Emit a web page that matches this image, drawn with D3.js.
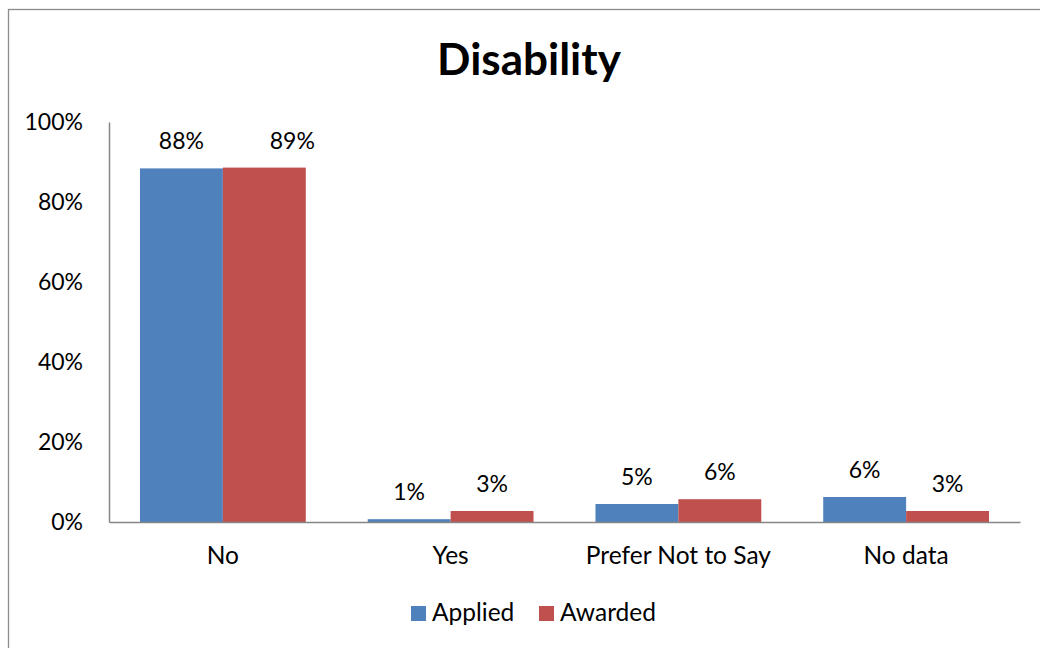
<!DOCTYPE html>
<html>
<head>
<meta charset="utf-8">
<script src="https://cdn.jsdelivr.net/npm/d3@7"></script>
<style>
  html, body { margin: 0; padding: 0; background: #fff; }
  svg { display: block; font-family: Lato, "Open Sans", sans-serif; }
</style>
</head>
<body>
<svg id="chart" width="1040" height="648"></svg>
<script>
const categories = ["No", "Yes", "Prefer Not to Say", "No data"];
const seriesNames = ["Applied", "Awarded"];
const applied = [88.4, 0.7, 4.5, 6.25];
const awarded = [88.6, 2.75, 5.7, 2.75];
const appliedLabels = ["88%", "1%", "5%", "6%"];
const awardedLabels = ["89%", "3%", "6%", "3%"];
const yTicks = [0, 20, 40, 60, 80, 100];
const colors = ["#4F81BD", "#C0504D"];

const svg = d3.select("#chart");
const W = 1040, H = 648;
const margin = {left: 109, right: 20, top: 122, bottom: 126};

// outer chart border
svg.append("rect")
  .attr("x", 8.5).attr("y", 9.5)
  .attr("width", W + 20).attr("height", H + 20)
  .attr("fill", "#fff").attr("stroke", "#8c8c8c").attr("stroke-width", 1.3);

const x0 = d3.scaleBand().domain(categories).range([margin.left, W - margin.right]).padding(0);
const x1 = d3.scaleBand().domain(seriesNames)
  .range([x0.bandwidth() * 0.136, x0.bandwidth() * (1 - 0.136)]).padding(0);
const y = d3.scaleLinear().domain([0, 100]).range([H - margin.bottom, margin.top]);

// title
svg.append("text")
  .attr("x", 529).attr("y", 75)
  .attr("text-anchor", "middle")
  .attr("font-weight", "bold")
  .attr("font-size", 44)
  .attr("fill", "#000")
  .text("Disability");

const data = categories.map((c, i) => ({
  cat: c,
  vals: [
    {s: seriesNames[0], v: applied[i], label: appliedLabels[i]},
    {s: seriesNames[1], v: awarded[i], label: awardedLabels[i]}
  ]
}));

const groups = svg.append("g").selectAll("g")
  .data(data).join("g")
  .attr("transform", d => `translate(${x0(d.cat)},0)`);

groups.selectAll("rect")
  .data(d => d.vals).join("rect")
  .attr("x", d => x1(d.s))
  .attr("width", x1.bandwidth())
  .attr("y", d => y(d.v))
  .attr("height", d => y(0) - y(d.v))
  .attr("fill", (d, i) => colors[i]);

// data labels (the second label of the first group is nudged right, as in the original)
groups.each(function(d, gi) {
  d3.select(this).selectAll("text.lbl")
    .data(d.vals).join("text")
    .attr("class", "lbl")
    .attr("x", (v, i) => x1(v.s) + x1.bandwidth() / 2 + (gi === 0 && i === 1 ? 28 : 0))
    .attr("y", v => y(v.v) - 19)
    .attr("text-anchor", "middle")
    .attr("font-size", 23)
    .attr("fill", "#000")
    .text(v => v.label);
});

// y axis
const yAxis = d3.axisLeft(y).tickValues(yTicks).tickSize(0).tickPadding(26)
  .tickFormat(d => d + "%");
const gy = svg.append("g").attr("transform", `translate(${margin.left},0)`).call(yAxis);
gy.select(".domain").attr("stroke", "#868686").attr("stroke-width", 1.5);
gy.selectAll("text").attr("font-size", 23).attr("font-family", "Lato, sans-serif").attr("fill", "#000");

// x axis
const xAxis = d3.axisBottom(x0).tickSize(0).tickPadding(25);
const gx = svg.append("g").attr("transform", `translate(0,${y(0)})`).call(xAxis);
gx.select(".domain").attr("stroke", "#868686").attr("stroke-width", 1.5);
gx.selectAll("text").attr("font-size", 24.5).attr("font-family", "Lato, sans-serif").attr("fill", "#000");

// legend
const legend = svg.append("g");
const legendItems = [
  {name: seriesNames[0], color: colors[0], x: 411},
  {name: seriesNames[1], color: colors[1], x: 539}
];
legendItems.forEach(it => {
  legend.append("rect").attr("x", it.x).attr("y", 606).attr("width", 15).attr("height", 15).attr("fill", it.color);
  legend.append("text").attr("x", it.x + 21).attr("y", 621)
    .attr("font-size", 24.5).attr("fill", "#000").text(it.name);
});
</script>
</body>
</html>
